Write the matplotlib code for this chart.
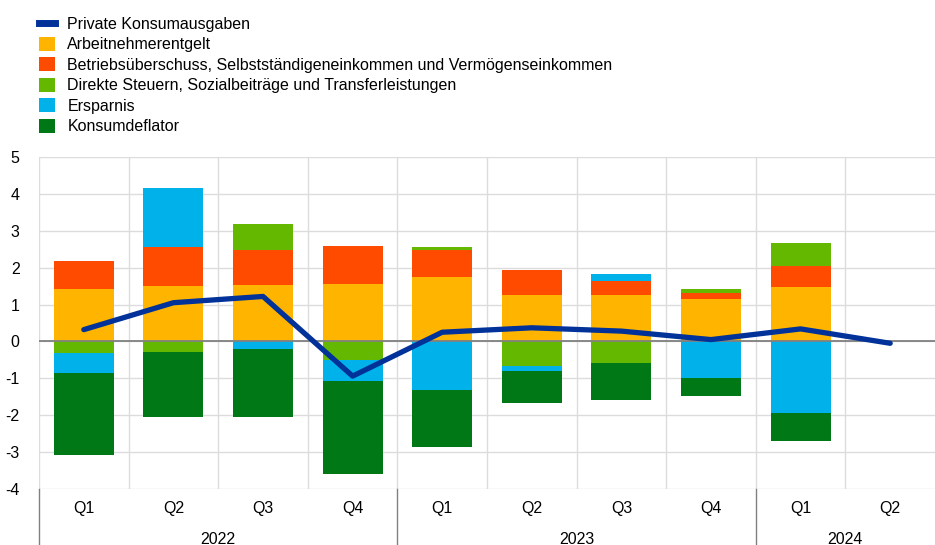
import numpy as np
import matplotlib
matplotlib.use('Agg')
import matplotlib.pyplot as plt
from matplotlib.patches import Patch
from matplotlib.lines import Line2D

plt.rcParams['font.family'] = ['Liberation Sans', 'DejaVu Sans']
plt.rcParams['axes.unicode_minus'] = False

# ==============================================================================
#  DATA  (Beiträge in Prozentpunkten, Quartale 2022 Q1 - 2024 Q2)
# ==============================================================================

QUARTERS = ['Q1', 'Q2', 'Q3', 'Q4', 'Q1', 'Q2', 'Q3', 'Q4', 'Q1', 'Q2']
YEARS    = ['2022', '2023', '2024']
YEAR_N   = [4, 4, 2]

arbeitnehmer = [1.41, 1.49, 1.54, 1.56, 1.74, 1.27, 1.25, 1.14, 1.47, np.nan]
betrieb      = [0.76, 1.08, 0.93, 1.03, 0.73, 0.68, 0.40, 0.17, 0.58, np.nan]
steuern      = [-0.32, -0.29, 0.72, -0.50, 0.08, -0.66, -0.59, 0.11, 0.63, np.nan]
ersparnis    = [-0.54, 1.59, -0.21, -0.58, -1.32, -0.14, 0.19, -0.99, -1.94, np.nan]
deflator     = [-2.23, -1.76, -1.84, -2.50, -1.54, -0.88, -0.99, -0.50, -0.77, np.nan]
konsum       = [0.32, 1.05, 1.22, -0.94, 0.25, 0.37, 0.28, 0.05, 0.34, -0.05]

SERIES = [
    ('Arbeitnehmerentgelt', arbeitnehmer, '#FFB400'),
    ('Betriebsüberschuss, Selbstständigeneinkommen und Vermögenseinkommen', betrieb, '#FF4B00'),
    ('Direkte Steuern, Sozialbeiträge und Transferleistungen', steuern, '#65B800'),
    ('Ersparnis', ersparnis, '#00B1EA'),
    ('Konsumdeflator', deflator, '#007816'),
]
LINE_LABEL = 'Private Konsumausgaben'
LINE_COLOR = '#003299'
FS = 11.5

# ==============================================================================
#  FIGURE
# ==============================================================================

fig = plt.figure(figsize=(9.35, 5.45), dpi=100)
ax = fig.add_axes([39 / 935, 1 - 489 / 545, 1 - 39 / 935, 332 / 545])

x = np.arange(len(QUARTERS))
pos_base = np.zeros(len(x))
neg_base = np.zeros(len(x))
for name, vals, col in SERIES:
    v = np.array(vals, dtype=float)
    vv = np.nan_to_num(v)
    bottom = np.where(vv >= 0, pos_base, neg_base)
    ax.bar(x, v, bottom=bottom, width=0.67, color=col, linewidth=0, zorder=2)
    pos_base += np.where(vv > 0, vv, 0)
    neg_base += np.where(vv < 0, vv, 0)

ax.plot(x, konsum, color=LINE_COLOR, lw=3.8, solid_capstyle='round', zorder=4)

ax.set_xlim(-0.5, len(x) - 0.5)
ax.set_ylim(-4, 5)
ax.set_yticks(range(-4, 6))
ax.set_xticks(x)
ax.set_xticklabels([])
ax.tick_params(axis='both', length=0)
ax.tick_params(axis='y', labelsize=FS, pad=14)

# grid: horizontal at integers, vertical at category boundaries
for yv in range(-4, 6):
    ax.axhline(yv, color='#dcdcdc', lw=1, zorder=0)
for b in np.arange(-0.5, len(x) - 0.5):
    ax.axvline(b, color='#dcdcdc', lw=1, zorder=0)
ax.axhline(0, color='#808080', lw=1.3, zorder=3)

for s in ax.spines.values():
    s.set_visible(False)

# quarter and year labels under the axis
trans = ax.get_xaxis_transform()
for xi, q in zip(x, QUARTERS):
    ax.text(xi, -20 / 332, q, transform=trans, ha='center', va='center', fontsize=FS)
start = 0
for yr, n in zip(YEARS, YEAR_N):
    ax.text(start + n / 2 - 0.5, -50 / 332, yr, transform=trans,
            ha='center', va='center', fontsize=FS)
    start += n
for b in [-0.5, 3.5, 7.5]:
    ax.add_line(Line2D([b, b], [0, -60 / 332], transform=trans, color='#808080',
                       lw=1, clip_on=False))

# legend
handles = [Line2D([0], [0], color=LINE_COLOR, lw=5)]
handles += [Patch(facecolor=col, edgecolor='none') for _, _, col in SERIES]
labels = [LINE_LABEL] + [name for name, _, _ in SERIES]
fig.legend(handles, labels, loc='upper left', bbox_to_anchor=(33 / 935, 1 - 10 / 545),
           frameon=False, fontsize=FS, handlelength=0.95, handleheight=0.95,
           handletextpad=0.8, labelspacing=0.32, borderaxespad=0)

fig.savefig('out.png', dpi=100)
plt.close()
